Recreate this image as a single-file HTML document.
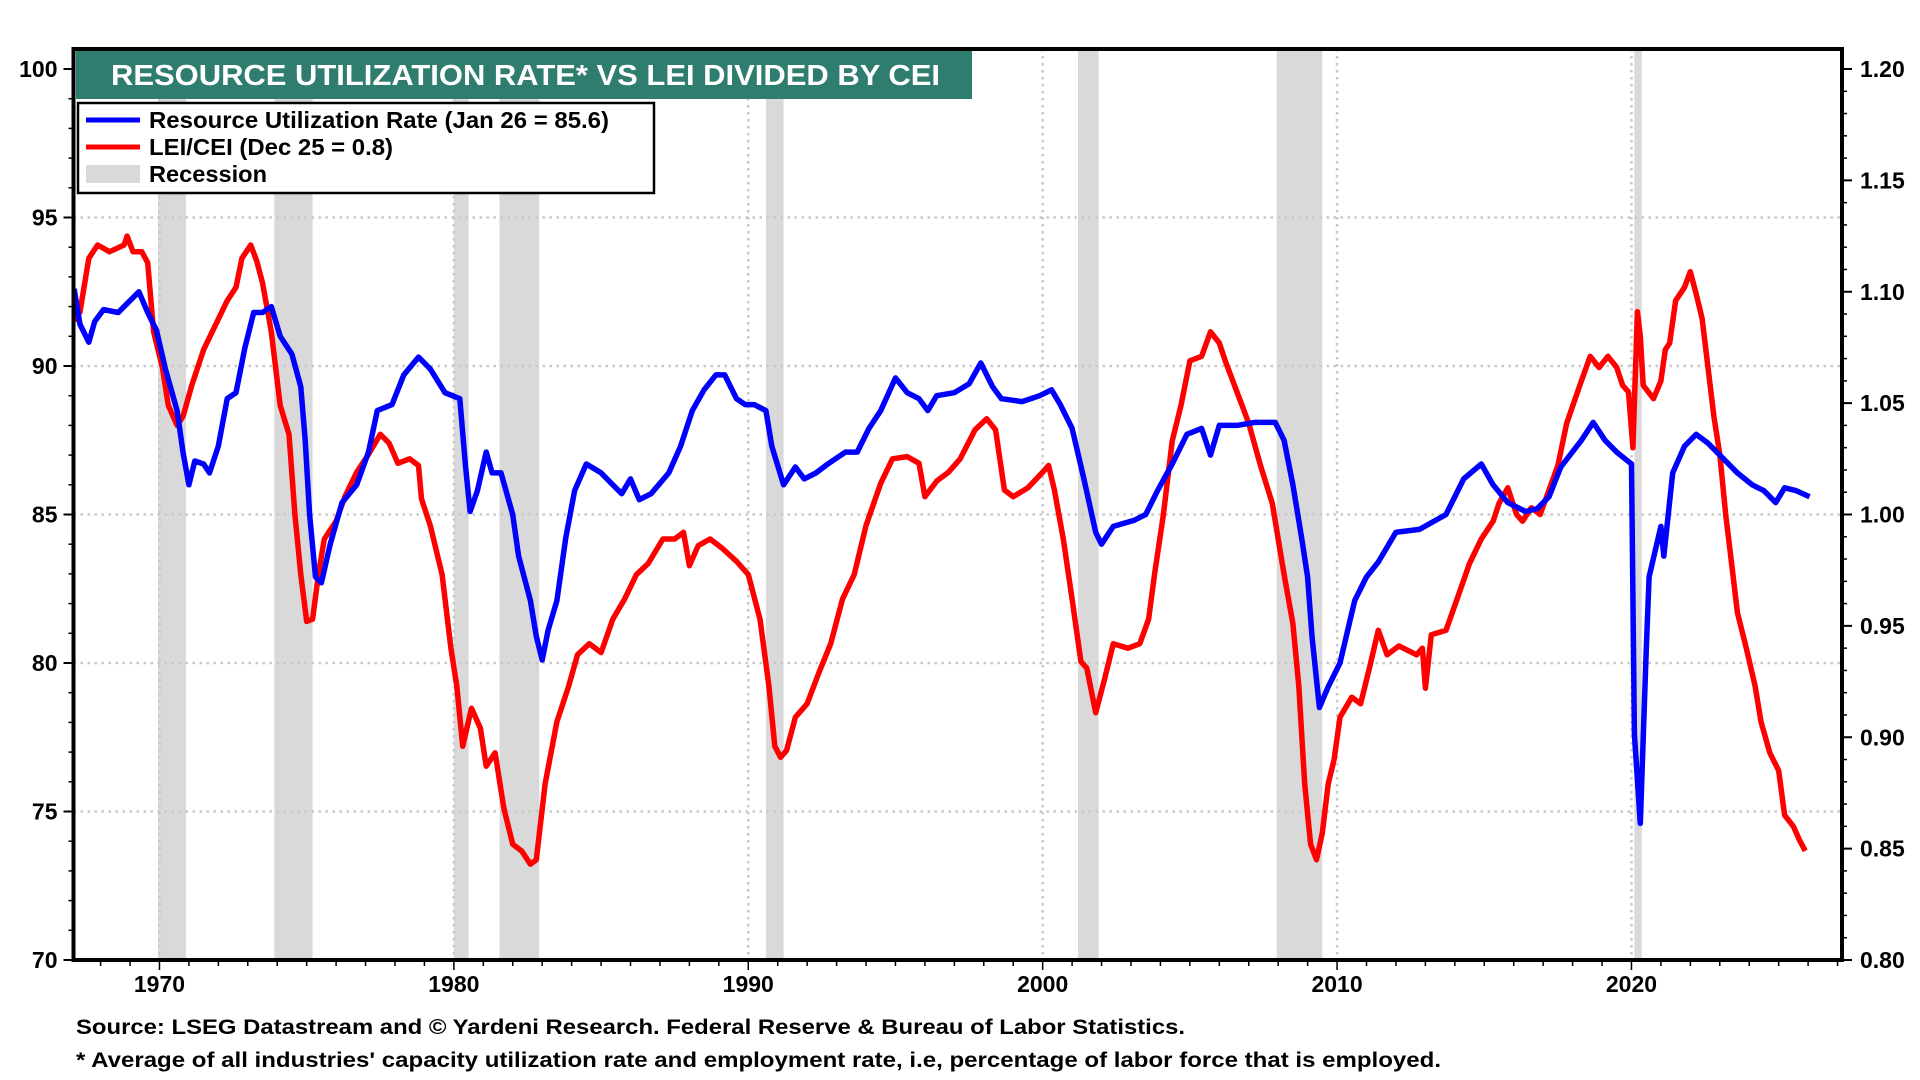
<!DOCTYPE html>
<html><head><meta charset="utf-8">
<style>
html,body{margin:0;padding:0;background:#fff;}
svg{display:block;font-family:"Liberation Sans",Arial,sans-serif;font-weight:bold;}
</style></head>
<body>
<svg id="chart" width="1920" height="1080" viewBox="0 0 1920 1080" xmlns="http://www.w3.org/2000/svg">
<g id="recessions"></g>
<g id="grid"></g>
<g id="series"></g>
<g id="axes"></g>
<rect x="76" y="51" width="896" height="48" fill="#2e7d6e"/>
<text x="111" y="85" font-size="29" textLength="829" lengthAdjust="spacingAndGlyphs" fill="#fff">RESOURCE UTILIZATION RATE* VS LEI DIVIDED BY CEI</text>
<g>
<rect x="78" y="103" width="576" height="90" fill="#fff" stroke="#000" stroke-width="2.5"/>
<line x1="86" y1="120" x2="140" y2="120" stroke="#0000ff" stroke-width="5"/>
<text x="149" y="128" font-size="23" textLength="460" lengthAdjust="spacingAndGlyphs">Resource Utilization Rate (Jan 26 = 85.6)</text>
<line x1="86" y1="147" x2="140" y2="147" stroke="#ff0000" stroke-width="5"/>
<text x="149" y="155" font-size="23" textLength="244" lengthAdjust="spacingAndGlyphs">LEI/CEI (Dec 25 = 0.8)</text>
<rect x="86" y="165" width="54" height="18" fill="#d9d9d9"/>
<text x="149" y="182" font-size="23" textLength="118" lengthAdjust="spacingAndGlyphs">Recession</text>
</g>
<text x="76" y="1034" font-size="21" textLength="1109" lengthAdjust="spacingAndGlyphs">Source: LSEG Datastream and © Yardeni Research. Federal Reserve &amp; Bureau of Labor Statistics.</text>
<text x="76" y="1067" font-size="21" textLength="1365" lengthAdjust="spacingAndGlyphs">* Average of all industries' capacity utilization rate and employment rate, i.e, percentage of labor force that is employed.</text>
</svg>
<script>
const recStart=[1969.95,1973.9,1980.0,1981.55,1990.6,2001.2,2007.95,2020.1];
const recEnd=[1970.9,1975.2,1980.5,1982.9,1991.2,2001.9,2009.5,2020.35];
const leftTicks=[70,75,80,85,90,95,100];
const rightTicks=[0.80,0.85,0.90,0.95,1.00,1.05,1.10,1.15,1.20];
const yearTicks=[1970,1980,1990,2000,2010,2020];
const rurYears=[1967.1,1967.3,1967.6,1967.8,1968.1,1968.6,1969.0,1969.3,1969.6,1969.9,1970.2,1970.6,1970.8,1971.0,1971.2,1971.5,1971.7,1972.0,1972.3,1972.6,1972.9,1973.2,1973.5,1973.8,1974.1,1974.5,1974.8,1974.95,1975.1,1975.3,1975.5,1975.8,1976.2,1976.7,1977.1,1977.4,1977.9,1978.3,1978.8,1979.2,1979.7,1980.2,1980.4,1980.55,1980.8,1981.1,1981.3,1981.6,1982.0,1982.2,1982.6,1982.8,1983.0,1983.2,1983.5,1983.8,1984.1,1984.5,1985.0,1985.4,1985.7,1986.0,1986.3,1986.7,1987.3,1987.7,1988.1,1988.5,1988.9,1989.2,1989.6,1989.9,1990.2,1990.6,1990.8,1991.2,1991.6,1991.9,1992.3,1992.7,1993.3,1993.7,1994.1,1994.5,1995.0,1995.4,1995.8,1996.1,1996.4,1997.0,1997.5,1997.9,1998.3,1998.6,1999.3,1999.9,2000.3,2000.6,2001.0,2001.4,2001.8,2002.0,2002.4,2003.1,2003.5,2003.9,2004.4,2004.9,2005.4,2005.7,2006.0,2006.6,2007.2,2007.9,2008.2,2008.5,2008.8,2009.0,2009.15,2009.4,2009.7,2010.1,2010.6,2011.0,2011.4,2012.0,2012.8,2013.7,2014.3,2014.9,2015.3,2015.8,2016.4,2016.8,2017.2,2017.6,2018.3,2018.7,2019.1,2019.5,2020.0,2020.1,2020.3,2020.5,2020.6,2021.0,2021.1,2021.4,2021.8,2022.2,2022.6,2023.0,2023.6,2024.1,2024.5,2024.9,2025.2,2025.6,2026.05];
const rurValues=[92.6,91.4,90.8,91.5,91.9,91.8,92.2,92.5,91.8,91.2,89.9,88.5,87.1,86.0,86.8,86.7,86.4,87.3,88.9,89.1,90.6,91.8,91.8,92.0,91.0,90.4,89.3,87.5,85.0,82.9,82.7,84.0,85.4,86.0,87.1,88.5,88.7,89.7,90.3,89.9,89.1,88.9,86.6,85.1,85.8,87.1,86.4,86.4,85.0,83.6,82.1,80.9,80.1,81.1,82.1,84.2,85.8,86.7,86.4,86.0,85.7,86.2,85.5,85.7,86.4,87.3,88.5,89.2,89.7,89.7,88.9,88.7,88.7,88.5,87.3,86.0,86.6,86.2,86.4,86.7,87.1,87.1,87.9,88.5,89.6,89.1,88.9,88.5,89.0,89.1,89.4,90.1,89.3,88.9,88.8,89.0,89.2,88.7,87.9,86.2,84.4,84.0,84.6,84.8,85.0,85.8,86.7,87.7,87.9,87.0,88.0,88.0,88.1,88.1,87.5,86.0,84.2,82.9,80.9,78.5,79.2,80.0,82.1,82.9,83.4,84.4,84.5,85.0,86.2,86.7,86.0,85.4,85.1,85.2,85.6,86.6,87.5,88.1,87.5,87.1,86.7,77.6,74.6,80.4,82.9,84.6,83.6,86.4,87.3,87.7,87.4,87.0,86.4,86.0,85.8,85.4,85.9,85.8,85.6];
const leiYears=[1967.1,1967.3,1967.6,1967.9,1968.3,1968.8,1968.9,1969.1,1969.4,1969.6,1969.8,1970.1,1970.3,1970.6,1970.8,1971.1,1971.5,1971.9,1972.3,1972.6,1972.8,1973.1,1973.3,1973.5,1973.8,1974.1,1974.4,1974.6,1974.8,1975.0,1975.2,1975.4,1975.6,1976.0,1976.3,1976.7,1977.1,1977.5,1977.8,1978.1,1978.5,1978.8,1978.9,1979.2,1979.6,1979.9,1980.1,1980.3,1980.6,1980.9,1981.1,1981.4,1981.7,1982.0,1982.3,1982.6,1982.8,1983.1,1983.5,1983.9,1984.2,1984.6,1985.0,1985.4,1985.8,1986.2,1986.6,1987.1,1987.5,1987.8,1988.0,1988.3,1988.7,1989.1,1989.6,1990.0,1990.4,1990.7,1990.9,1991.1,1991.3,1991.6,1992.0,1992.4,1992.8,1993.2,1993.6,1994.0,1994.5,1994.9,1995.4,1995.8,1996.0,1996.4,1996.8,1997.2,1997.7,1998.1,1998.4,1998.7,1999.0,1999.5,2000.0,2000.2,2000.4,2000.7,2001.0,2001.3,2001.5,2001.8,2002.1,2002.4,2002.9,2003.3,2003.6,2003.8,2004.1,2004.4,2004.7,2005.0,2005.4,2005.7,2006.0,2006.2,2006.6,2007.0,2007.4,2007.8,2008.2,2008.5,2008.7,2008.9,2009.1,2009.3,2009.5,2009.7,2009.9,2010.1,2010.5,2010.8,2011.1,2011.4,2011.7,2012.1,2012.7,2012.9,2013.0,2013.2,2013.7,2014.1,2014.5,2014.9,2015.3,2015.5,2015.8,2016.1,2016.3,2016.6,2016.9,2017.2,2017.5,2017.8,2018.3,2018.6,2018.9,2019.2,2019.5,2019.7,2019.9,2020.05,2020.2,2020.3,2020.4,2020.75,2021.0,2021.15,2021.3,2021.5,2021.8,2022.0,2022.2,2022.4,2022.6,2022.8,2023.0,2023.2,2023.4,2023.6,2023.9,2024.2,2024.4,2024.7,2025.0,2025.2,2025.5,2025.7,2025.9];
const leiValues=[1.087,1.091,1.115,1.121,1.118,1.121,1.125,1.118,1.118,1.113,1.082,1.066,1.049,1.040,1.044,1.058,1.074,1.085,1.096,1.102,1.115,1.121,1.114,1.104,1.082,1.049,1.036,1.000,0.973,0.952,0.953,0.973,0.989,0.997,1.008,1.019,1.027,1.036,1.032,1.023,1.025,1.022,1.007,0.995,0.973,0.940,0.923,0.896,0.913,0.904,0.887,0.893,0.868,0.852,0.849,0.843,0.845,0.879,0.907,0.923,0.937,0.942,0.938,0.953,0.962,0.973,0.978,0.989,0.989,0.992,0.977,0.986,0.989,0.985,0.979,0.973,0.953,0.923,0.896,0.891,0.894,0.909,0.915,0.929,0.942,0.962,0.973,0.995,1.014,1.025,1.026,1.023,1.008,1.015,1.019,1.025,1.038,1.043,1.038,1.011,1.008,1.012,1.019,1.022,1.011,0.989,0.962,0.934,0.931,0.911,0.926,0.942,0.940,0.942,0.953,0.973,1.000,1.033,1.049,1.069,1.071,1.082,1.077,1.069,1.055,1.041,1.022,1.005,0.973,0.951,0.923,0.879,0.852,0.845,0.857,0.879,0.890,0.909,0.918,0.915,0.931,0.948,0.937,0.941,0.937,0.940,0.922,0.946,0.948,0.963,0.978,0.989,0.997,1.005,1.012,1.000,0.997,1.003,1.000,1.011,1.022,1.041,1.060,1.071,1.066,1.071,1.066,1.058,1.055,1.030,1.091,1.080,1.058,1.052,1.060,1.074,1.077,1.096,1.102,1.109,1.099,1.088,1.066,1.044,1.027,1.000,0.978,0.956,0.940,0.923,0.907,0.893,0.885,0.865,0.860,0.854,0.849];

const NS='http://www.w3.org/2000/svg';
const X0=73.5,X1=1842,Y0=49,Y1=960;
const Y0yr=1967.08,PXYR=29.44;
const xs=yr=>X0+(yr-Y0yr)*PXYR;
const yl=v=>Y1-(v-70)*29.7;
const yr_=v=>Y1-(v-0.8)*2227.5;
function mk(tag,attrs,parent){const e=document.createElementNS(NS,tag);for(const k in attrs)e.setAttribute(k,attrs[k]);parent.appendChild(e);return e;}
const gRec=document.getElementById('recessions'),gGrid=document.getElementById('grid'),gSer=document.getElementById('series'),gAx=document.getElementById('axes');
for(let i=0;i<recStart.length;i++){
  const r=mk('rect',{x:xs(recStart[i]),y:Y0,width:xs(recEnd[i])-xs(recStart[i]),height:Y1-Y0,fill:'#d9d9d9'},gRec);
  
  
}
leftTicks.forEach(v=>{
  if(v>70&&v<100){const l=mk('line',{x1:X0,x2:X1,y1:yl(v),y2:yl(v),stroke:'#c8c8c8','stroke-width':2.5,'stroke-dasharray':'2.5 4.5'},gGrid);
  
  }
  const t=mk('text',{x:X0-16,y:yl(v)+8,'text-anchor':'end','font-size':23},gAx);t.textContent=v;
  
  
  mk('line',{x1:X0-10,x2:X0,y1:yl(v),y2:yl(v),stroke:'#000','stroke-width':2},gAx);
});
for(let v=70;v<=100;v++)mk('line',{x1:X0-5,x2:X0,y1:yl(v),y2:yl(v),stroke:'#000','stroke-width':1.5},gAx);
rightTicks.forEach(v=>{
  const t=mk('text',{x:X1+18,y:yr_(v)+8,'font-size':23},gAx);t.textContent=v.toFixed(2);
  
  
  mk('line',{x1:X1,x2:X1+10,y1:yr_(v),y2:yr_(v),stroke:'#000','stroke-width':2},gAx);
});
for(let v=0.8;v<=1.2001;v+=0.01)mk('line',{x1:X1,x2:X1+5,y1:yr_(v),y2:yr_(v),stroke:'#000','stroke-width':1.5},gAx);
yearTicks.forEach(y=>{
  const l=mk('line',{x1:xs(y),x2:xs(y),y1:Y0,y2:Y1,stroke:'#c8c8c8','stroke-width':2.5,'stroke-dasharray':'2.5 4.5'},gGrid);
  
  
  const t=mk('text',{x:xs(y),y:Y1+32,'text-anchor':'middle','font-size':23},gAx);t.textContent=y;
  
  
});
for(let y=1968;y<=2027;y++)mk('line',{x1:xs(y),x2:xs(y),y1:Y1,y2:Y1+(y%10==0?10:6),stroke:'#000','stroke-width':1.5},gAx);
function path(xsArr,vals,fy,color,name){
  let d='';for(let i=0;i<xsArr.length;i++)d+=(i?'L':'M')+xs(xsArr[i]).toFixed(1)+','+fy(vals[i]).toFixed(1);
  const p=mk('path',{d:d,fill:'none',stroke:color,'stroke-width':5.5,'stroke-linejoin':'round'},gSer);
  
  
}
path(leiYears,leiValues,yr_,'#ff0000','lei-cei-line');
path(rurYears,rurValues,yl,'#0000ff','resource-utilization-line');
const frame=mk('rect',{x:X0,y:Y0,width:X1-X0,height:Y1-Y0,fill:'none',stroke:'#000','stroke-width':4},gAx);


</script>
</body></html>
